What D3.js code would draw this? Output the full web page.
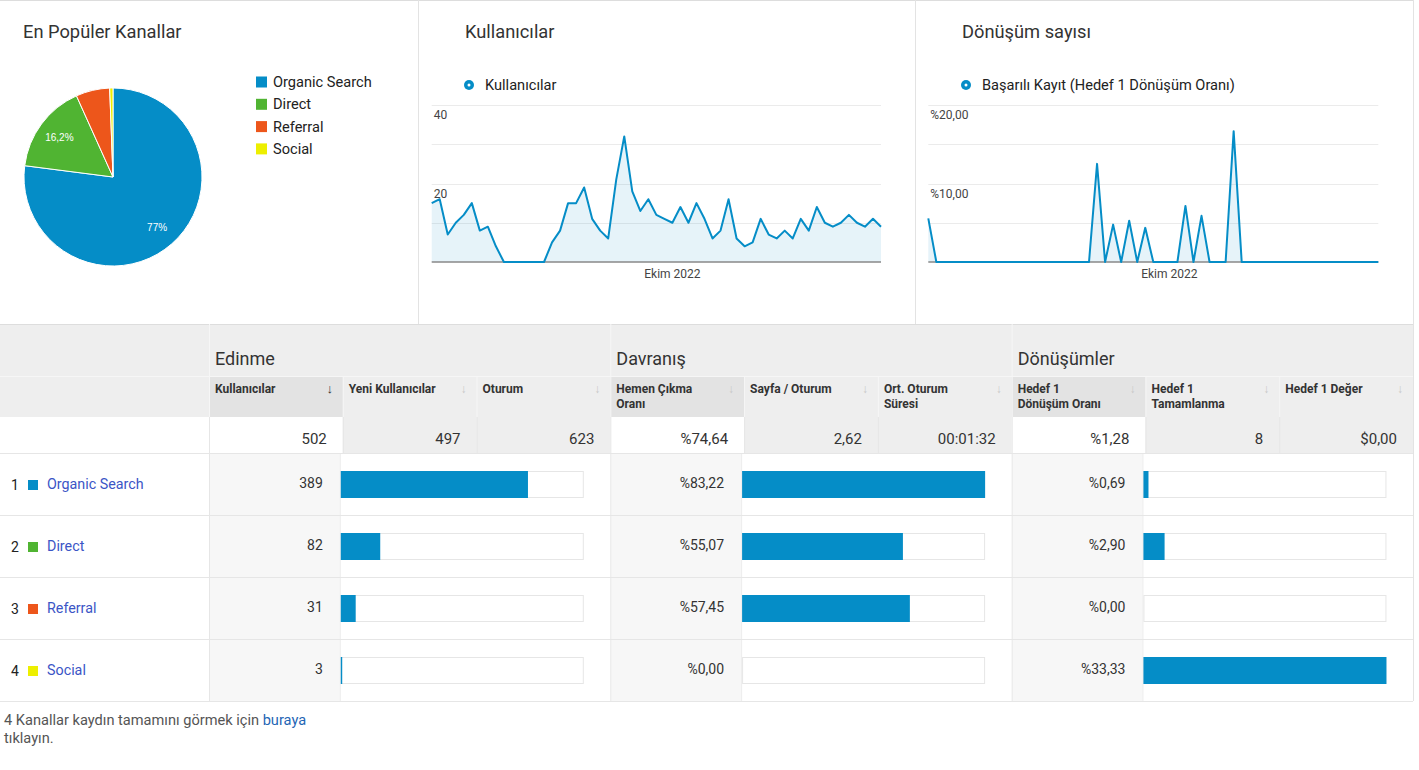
<!DOCTYPE html>
<html>
<head>
<meta charset="utf-8">
<script src="https://cdn.jsdelivr.net/npm/d3@7"></script>
<style>
  body { margin: 0; background: #fff; font-family: Roboto, Arial, sans-serif; }
</style>
</head>
<body>
<svg id="chart" width="1419" height="770"></svg>
<script>
// --- veriler ---
const channels = ["Organic Search", "Direct", "Referral", "Social"];
const channelColors = ["#058dc7", "#50b432", "#ed561b", "#edef00"];
const users = [389, 82, 31, 3];
const bounceRate = [83.22, 55.07, 57.45, 0];
const convRate = [0.69, 2.90, 0, 33.33];

// günlük kullanıcılar (1 Eylül - 27 Ekim 2022)
const dailyUsers = [15, 16, 7, 10, 12, 15, 8, 9, 4, 0, 0, 0, 0, 0, 0, 5, 8, 15, 15, 19,
  11, 8, 6, 21, 32, 18, 13, 16, 12, 11, 10, 14, 10, 15, 11, 6, 8, 16, 6, 4,
  5, 11, 7, 6, 8, 6, 11, 8, 14, 10, 9, 10, 12, 10, 9, 11, 9];
// günlük hedef 1 dönüşüm oranı (%)
const dailyConv = [5.56, 0, 0, 0, 0, 0, 0, 0, 0, 0, 0, 0, 0, 0, 0, 0, 0, 0, 0, 0,
  0, 12.5, 0, 4.76, 0, 5.26, 0, 4.35, 0, 0, 0, 0, 7.14, 0, 5.88, 0, 0, 0, 16.67, 0,
  0, 0, 0, 0, 0, 0, 0, 0, 0, 0, 0, 0, 0, 0, 0, 0, 0];
const startDate = new Date(2022, 8, 1);
const monthTicks = [new Date(2022, 9, 1)];
const monthLabels = ["Ekim 2022"];
const usersTickValues = [20, 40];
const usersTickLabels = ["20", "40"];
const convTickValues = [10, 20];
const convTickLabels = ["%10,00", "%20,00"];

const groups = ["Edinme", "Davranış", "Dönüşümler"];
const columns = [
  ["Kullanıcılar"], ["Yeni Kullanıcılar"], ["Oturum"],
  ["Hemen Çıkma", "Oranı"], ["Sayfa / Oturum"], ["Ort. Oturum", "Süresi"],
  ["Hedef 1", "Dönüşüm Oranı"], ["Hedef 1", "Tamamlanma"], ["Hedef 1 Değer"]
];
const totals = ["502", "497", "623", "%74,64", "2,62", "00:01:32", "%1,28", "8", "$0,00"];

const blue = "#058dc7";
const svg = d3.select("#chart");
const trNum = s => s.replace(".", ",");

// --- üst paneller ---
svg.append("line").attr("x1", 0).attr("x2", 1413).attr("y1", 0.5).attr("y2", 0.5).attr("stroke", "#ddd");
[418.5, 915.5].forEach(x => svg.append("line").attr("x1", x).attr("x2", x)
  .attr("y1", 0).attr("y2", 324).attr("stroke", "#e3e3e3"));

const title = (x, t) => svg.append("text").attr("x", x).attr("y", 38)
  .attr("font-size", 18.3).attr("fill", "#333").text(t);
title(23, "En Popüler Kanallar");
title(465, "Kullanıcılar");
title(962, "Dönüşüm sayısı");

// pasta grafik
const pieG = svg.append("g").attr("transform", "translate(113,177)");
const arcs = d3.pie().sort(null).value(d => d)(users);
const R = 89;
const arc = d3.arc().innerRadius(0).outerRadius(R);
const labelArc = d3.arc().innerRadius(R * 0.5).outerRadius(R);
const total = d3.sum(users);
pieG.selectAll("path").data(arcs).join("path")
  .attr("d", arc)
  .attr("fill", (d, i) => channelColors[i])
  .attr("stroke", "#fff").attr("stroke-width", 1);
pieG.selectAll("text").data(arcs.filter(d => d.value / total > 0.1)).join("text")
  .attr("transform", d => `translate(${labelArc.centroid(d)})`)
  .attr("text-anchor", "middle").attr("dy", "0.35em")
  .attr("font-size", 10).attr("fill", "#fff").attr("font-family", "Arial, sans-serif")
  .text(d => trNum(d3.format(".3~")(d.value / total * 100)) + "%");

const legend = svg.append("g");
channels.forEach((c, i) => {
  const y = 82 + i * 22.3;
  legend.append("rect").attr("x", 256).attr("y", y - 5.5).attr("width", 11).attr("height", 11)
    .attr("fill", channelColors[i]);
  legend.append("text").attr("x", 273).attr("y", y).attr("dy", "0.35em")
    .attr("font-size", 14.6).attr("fill", "#222").text(c);
});

// çizgi grafikler
function drawLine(x0, x1, values, yMax, tickVals, tickLabels, legendX, legendText) {
  const g = svg.append("g");
  const dates = values.map((v, i) => d3.timeDay.offset(startDate, i));
  const x = d3.scaleTime().domain(d3.extent(dates)).range([x0, x1]);
  const y = d3.scaleLinear().domain([0, yMax]).range([262, 105]);

  g.selectAll(".grid").data(y.ticks(4).filter(t => t > 0)).join("line")
    .attr("x1", x0).attr("x2", x1)
    .attr("y1", d => Math.round(y(d)) + 0.5).attr("y2", d => Math.round(y(d)) + 0.5)
    .attr("stroke", "#ebebeb");

  g.append("path").datum(values)
    .attr("d", d3.area().x((d, i) => x(dates[i])).y0(y(0)).y1(d => y(d)))
    .attr("fill", blue).attr("fill-opacity", 0.1);
  g.append("line").attr("x1", x0).attr("x2", x1).attr("y1", 262).attr("y2", 262)
    .attr("stroke", "#888").attr("stroke-width", 1.5);
  g.append("path").datum(values)
    .attr("d", d3.line().x((d, i) => x(dates[i])).y(d => y(d)))
    .attr("fill", "none").attr("stroke", blue).attr("stroke-width", 2)
    .attr("stroke-linejoin", "round");

  tickVals.forEach((t, i) => g.append("text").attr("x", x0 + 2).attr("y", y(t) + 10)
    .attr("dy", "0.35em").attr("font-size", 12).attr("fill", "#444").text(tickLabels[i]));
  monthTicks.forEach((t, i) => g.append("text").attr("x", x(t)).attr("y", 274)
    .attr("dy", "0.35em").attr("text-anchor", "middle")
    .attr("font-size", 12).attr("fill", "#444").text(monthLabels[i]));

  g.append("circle").attr("cx", legendX).attr("cy", 85).attr("r", 5).attr("fill", blue);
  g.append("circle").attr("cx", legendX).attr("cy", 85).attr("r", 1.5).attr("fill", "#fff");
  g.append("text").attr("x", legendX + 16).attr("y", 85).attr("dy", "0.35em")
    .attr("font-size", 14.6).attr("fill", "#222").text(legendText);
}
drawLine(431.7, 881, dailyUsers, 40, usersTickValues, usersTickLabels, 469, "Kullanıcılar");
drawLine(928.3, 1378.3, dailyConv, 20, convTickValues, convTickLabels, 966, "Başarılı Kayıt (Hedef 1 Dönüşüm Oranı)");

// --- tablo ---
const colX = d3.scaleLinear().domain([0, 9]).range([209, 1413]);
const gTop = 324, gBot = 376, hBot = 417, tBot = 453, rowH = 62;
const highlight = [0, 3, 6];
const table = svg.append("g");

table.append("rect").attr("x", 0).attr("y", gTop).attr("width", 1413).attr("height", hBot - gTop)
  .attr("fill", "#eee");
table.append("line").attr("x1", 0).attr("x2", 1413).attr("y1", gTop + 0.5).attr("y2", gTop + 0.5)
  .attr("stroke", "#ddd");

// grup başlıkları
groups.forEach((gname, i) => {
  table.append("text").attr("x", colX(i * 3) + 6).attr("y", 365)
    .attr("font-size", 18).attr("fill", "#333").text(gname);
});
[0, 3, 6].forEach(i => table.append("line").attr("x1", colX(i) + 0.5).attr("x2", colX(i) + 0.5)
  .attr("y1", gTop).attr("y2", gBot).attr("stroke", "#f6f6f6"));
table.append("line").attr("x1", 0).attr("x2", 1413).attr("y1", gBot + 0.5).attr("y2", gBot + 0.5)
  .attr("stroke", "#f6f6f6");

// sütun başlıkları
columns.forEach((lines, i) => {
  const xl = colX(i), xr = colX(i + 1);
  if (highlight.includes(i)) {
    table.append("rect").attr("x", xl).attr("y", gBot + 1).attr("width", xr - xl).attr("height", hBot - gBot - 1)
      .attr("fill", "#e3e3e3");
  }
  table.append("line").attr("x1", xl + 0.5).attr("x2", xl + 0.5).attr("y1", gBot).attr("y2", tBot)
    .attr("stroke", "#f6f6f6");
  lines.forEach((l, j) => table.append("text").attr("x", xl + 6).attr("y", 393 + j * 15)
    .attr("font-size", 12).attr("font-weight", "bold").attr("fill", "#333").text(l));
  table.append("text").attr("x", xr - 13).attr("y", 393).attr("text-anchor", "middle")
    .attr("font-size", i === 0 ? 13 : 12).attr("font-weight", i === 0 ? "bold" : "normal")
    .attr("fill", i === 0 ? "#333" : "#c8c8c8").text("↓");
});

// toplamlar satırı
table.append("rect").attr("x", 0).attr("y", hBot).attr("width", 1413).attr("height", tBot - hBot)
  .attr("fill", "#fff");
totals.forEach((t, i) => {
  const xl = colX(i), xr = colX(i + 1);
  if (!highlight.includes(i)) {
    table.append("rect").attr("x", xl).attr("y", hBot).attr("width", xr - xl).attr("height", tBot - hBot)
      .attr("fill", "#eee");
  }
  table.append("line").attr("x1", xl + 0.5).attr("x2", xl + 0.5).attr("y1", hBot).attr("y2", tBot)
    .attr("stroke", "#e6e6e6");
  table.append("text").attr("x", xr - 16).attr("y", 439).attr("dy", "0.35em")
    .attr("text-anchor", "end").attr("font-size", 15).attr("fill", "#333").text(t);
});

// veri satırları
const barScales = [
  d3.scaleLinear().domain([0, d3.sum(users)]).range([0, 243]),
  d3.scaleLinear().domain([0, d3.max(bounceRate)]).range([0, 243]),
  d3.scaleLinear().domain([0, d3.max(convRate)]).range([0, 243])
];
const metricVals = [users, bounceRate, convRate];
const metricFmt = [
  d => String(d),
  d => "%" + trNum(d3.format(".2f")(d)),
  d => "%" + trNum(d3.format(".2f")(d))
];

channels.forEach((c, r) => {
  const y0 = tBot + r * rowH;
  const row = table.append("g");
  row.append("text").attr("x", 11).attr("y", y0 + 32).attr("dy", "0.35em")
    .attr("font-size", 14).attr("fill", "#222").text(r + 1);
  row.append("rect").attr("x", 28).attr("y", y0 + 27).attr("width", 10).attr("height", 10)
    .attr("fill", channelColors[r]);
  row.append("text").attr("x", 47).attr("y", y0 + 31).attr("dy", "0.35em")
    .attr("font-size", 14.3).attr("fill", "#3b55c6").text(c);

  [0, 1, 2].forEach(gi => {
    const vl = colX(gi * 3), vr = colX(gi * 3 + 1) - 3;
    row.append("rect").attr("x", vl + 1).attr("y", y0 + 1).attr("width", vr - vl - 1).attr("height", rowH - 1)
      .attr("fill", "#f7f7f7");
    row.append("line").attr("x1", vl + 0.5).attr("x2", vl + 0.5).attr("y1", y0).attr("y2", y0 + rowH)
      .attr("stroke", "#e6e6e6");
    row.append("line").attr("x1", vr + 0.5).attr("x2", vr + 0.5).attr("y1", y0).attr("y2", y0 + rowH)
      .attr("stroke", "#ececec");
    const v = metricVals[gi][r];
    row.append("text").attr("x", vr - 17).attr("y", y0 + 30).attr("dy", "0.35em")
      .attr("text-anchor", "end").attr("font-size", 14).attr("fill", "#333").text(metricFmt[gi](v));
    row.append("rect").attr("x", vr + 1.5).attr("y", y0 + 18.5).attr("width", 242).attr("height", 26)
      .attr("fill", "#fff").attr("stroke", "#e6e6e6");
    row.append("rect").attr("x", vr + 1).attr("y", y0 + 18).attr("width", barScales[gi](v)).attr("height", 27)
      .attr("fill", blue);
  });
  row.append("line").attr("x1", 0).attr("x2", 1413).attr("y1", y0 + 0.5).attr("y2", y0 + 0.5)
    .attr("stroke", "#e6e6e6");
});
const tEnd = tBot + channels.length * rowH;
table.append("line").attr("x1", 0).attr("x2", 1413).attr("y1", tEnd + 0.5).attr("y2", tEnd + 0.5)
  .attr("stroke", "#e6e6e6");
svg.append("line").attr("x1", 1413.5).attr("x2", 1413.5).attr("y1", 0).attr("y2", tEnd)
  .attr("stroke", "#e3e3e3");

// alt bilgi
const foot = svg.append("text").attr("x", 4).attr("y", 725).attr("font-size", 14.6).attr("fill", "#555");
foot.append("tspan").text("4 Kanallar kaydın tamamını görmek için ");
foot.append("tspan").attr("fill", "#1f66b5").text("buraya");
svg.append("text").attr("x", 4).attr("y", 743).attr("font-size", 14.6).attr("fill", "#555").text("tıklayın.");
</script>
</body>
</html>
